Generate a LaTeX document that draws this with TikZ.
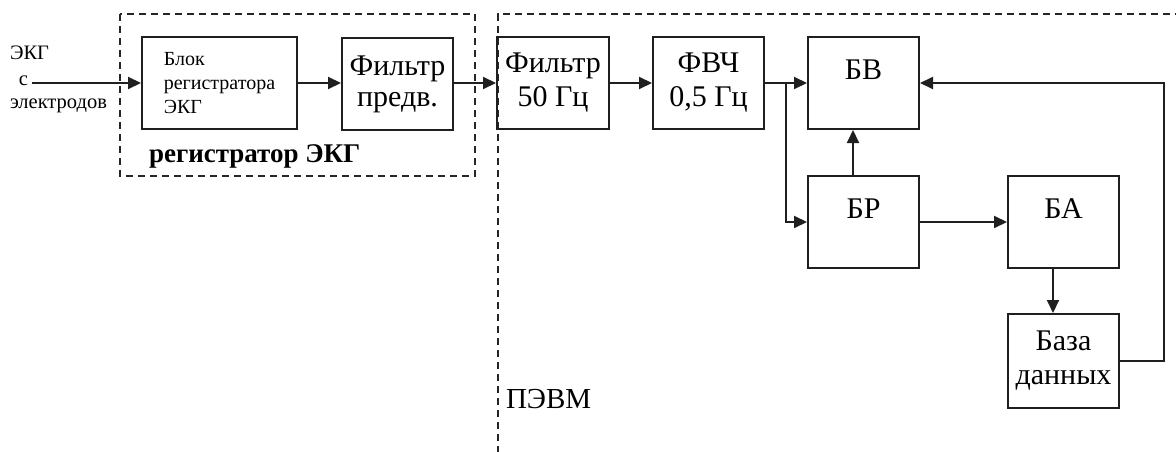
\documentclass[tikz,border=0pt]{standalone}
\usepackage{fontspec}
\setmainfont{Liberation Serif}
\usetikzlibrary{arrows.meta}
\begin{document}
\begin{tikzpicture}[x=1pt,y=-1pt,
  line width=2pt, draw=black!88,
  blk/.style={draw, rectangle, minimum width=#1, minimum height=92pt,
    inner sep=0pt, align=center, font=\fontsize{30}{34}\selectfont},
  blk/.default=111pt,
  toptext/.style={text height=21pt, text depth=28pt},
  arr/.style={-{Triangle[length=13pt,width=12pt]}},
  grpframe/.style={draw=black!85, line width=2pt, dash pattern=on 7pt off 5pt},
  lbl/.style={inner sep=0pt, anchor=base west}
]
\useasboundingbox (0,0) rectangle (1176,452);
\clip (0,0) rectangle (1176,452);

% group frames
\draw[grpframe] (120,14) rectangle (475,176);
\draw[grpframe] (497.5,452.8) rectangle (1200,14);

% input label
\node[lbl, font=\fontsize{20.5}{24}\selectfont] (inA) at (9,60) {ЭКГ};
\node[lbl, font=\fontsize{20.5}{24}\selectfont] (inB) at (18,85) {с};
\node[lbl, font=\fontsize{20.5}{24}\selectfont] (inC) at (9,108) {электродов};

% blocks
\node[blk=155pt, font=\fontsize{20}{24}\selectfont, align=left] (reg) at (219.5,83) {Блок\\регистратора\\ЭКГ};
\node[blk, font=\fontsize{30}{31}\selectfont] (fp) at (397.5,84) {Фильтр\\предв.};
\node[blk=112pt] (f50) at (553,83) {Фильтр\\50 Гц};
\node[blk] (fhp) at (708.5,83) {ФВЧ\\0,5 Гц};
\node[blk, toptext] (bv) at (863.5,83) {БВ};
\node[blk, toptext] (br) at (863.5,222) {БР};
\node[blk, toptext] (ba) at (1063.5,222) {БА};
\node[blk, minimum height=94pt] (db) at (1063.5,361) {База\\данных};

% group captions
\node[lbl, font=\bfseries\fontsize{27}{32}\selectfont] (capReg) at (148,162) {регистратор ЭКГ};
\node[lbl, font=\fontsize{29}{32}\selectfont] (capPc) at (505,408) {ПЭВМ};

% connectors
\coordinate (in) at (32,83);
\coordinate (split) at (786,83);
\coordinate (fb) at (1164,83);
\draw[arr] (in) -- (reg.west);
\draw[arr] (reg) -- (fp.west |- reg);
\draw[arr] (fp.east |- reg) -- (f50);
\draw[arr] (f50) -- (fhp);
\draw[arr] (fhp) -- (bv);
\draw[arr] (split) |- (br.west);
\draw[arr] ([xshift=-10.5pt]br.north) -- ([xshift=-10.5pt]bv.south);
\draw[arr] (br) -- (ba);
\draw[arr] ([xshift=-10.5pt]ba.south) -- ([xshift=-10.5pt]db.north);
\draw[arr] (db.east) -| (fb) -- (bv.east);
\end{tikzpicture}
\end{document}
